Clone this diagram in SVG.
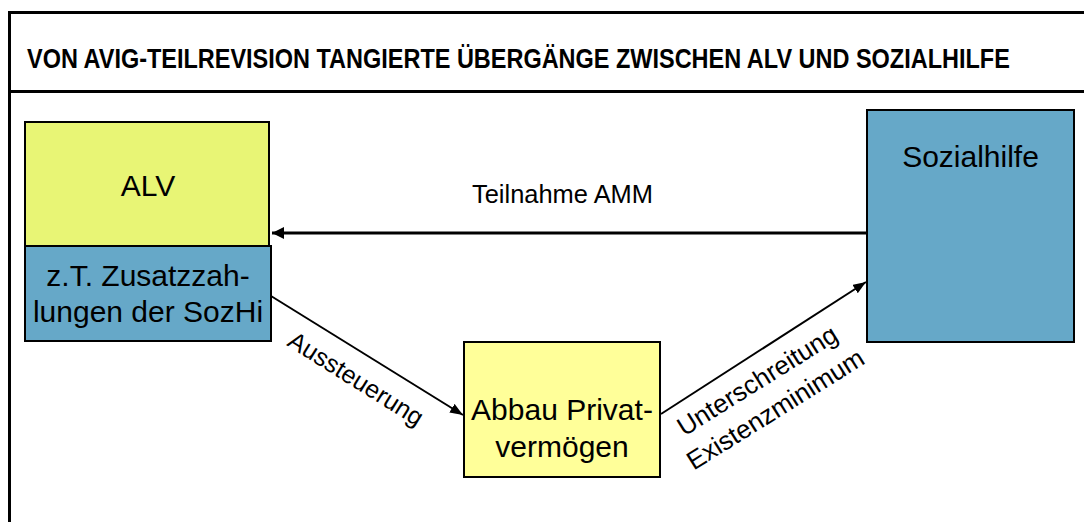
<svg xmlns="http://www.w3.org/2000/svg" width="1084" height="522" viewBox="0 0 1084 522">
<style>
.frame{stroke:#000;stroke-width:3;fill:none}
.box{stroke:#000;stroke-width:2}
.t{font-family:"Liberation Sans",Arial,sans-serif;fill:#000}
.lbl{font-size:30px;text-anchor:middle}
.edge{font-size:25px}
.conn{stroke:#000;fill:none}
</style>
<defs>
<marker id="ah" markerUnits="userSpaceOnUse" viewBox="0 0 12 12" refX="12" refY="6" markerWidth="12" markerHeight="12" orient="auto">
<path d="M0,0 L12,6 L0,12 Z" fill="#000"/>
</marker>
<marker id="ah2" markerUnits="userSpaceOnUse" viewBox="0 0 13 10" refX="13" refY="5" markerWidth="13" markerHeight="10" orient="auto">
<path d="M0,0 L13,5 L0,10 Z" fill="#000"/>
</marker>
</defs>
<rect width="1084" height="522" fill="#fff"/>
<g id="frame">
<line class="frame" x1="9.5" y1="12.5" x2="1084" y2="12.5"/>
<line class="frame" x1="9.5" y1="91.5" x2="1084" y2="91.5"/>
<line class="frame" x1="9.5" y1="11" x2="9.5" y2="522"/>
<text class="t" transform="translate(27,68) scale(0.78,1)" font-size="28.5" font-weight="bold" textLength="1260" lengthAdjust="spacingAndGlyphs">VON AVIG-TEILREVISION TANGIERTE ÜBERGÄNGE ZWISCHEN ALV UND SOZIALHILFE</text>
</g>
<g id="alv">
<rect class="box" x="25" y="122" width="244" height="124" fill="#E8F575"/>
<text class="t lbl" x="148" y="196">ALV</text>
</g>
<g id="zusatz">
<rect class="box" x="25" y="246" width="246" height="95" fill="#66A8C8"/>
<text class="t lbl" x="148" y="286">z.T. Zusatzzah-</text>
<text class="t lbl" x="148" y="322">lungen der SozHi</text>
</g>
<g id="sozialhilfe">
<rect class="box" x="867" y="110" width="207" height="232" fill="#66A8C8"/>
<text class="t lbl" x="970.5" y="167">Sozialhilfe</text>
</g>
<g id="abbau">
<rect class="box" x="464" y="342" width="196" height="135" fill="#FFFF99"/>
<text class="t lbl" x="562" y="420">Abbau Privat-</text>
<text class="t lbl" x="562" y="457">vermögen</text>
</g>
<g id="connectors">
<line class="conn" x1="866" y1="233" x2="272" y2="233" stroke-width="3" marker-end="url(#ah)"/>
<line class="conn" x1="271" y1="296" x2="463" y2="415" stroke-width="2" marker-end="url(#ah2)"/>
<line class="conn" x1="661" y1="414" x2="866" y2="282" stroke-width="2" marker-end="url(#ah2)"/>
<text class="t edge" x="472" y="203" textLength="181" lengthAdjust="spacingAndGlyphs">Teilnahme AMM</text>
<text class="t edge" transform="translate(286,345) rotate(32)">Aussteuerung</text>
<text class="t" font-size="26" text-anchor="middle" transform="translate(762,388) rotate(-32)"><tspan x="0" y="0">Unterschreitung</tspan><tspan x="0" y="34">Existenzminimum</tspan></text>
</g>
</svg>
